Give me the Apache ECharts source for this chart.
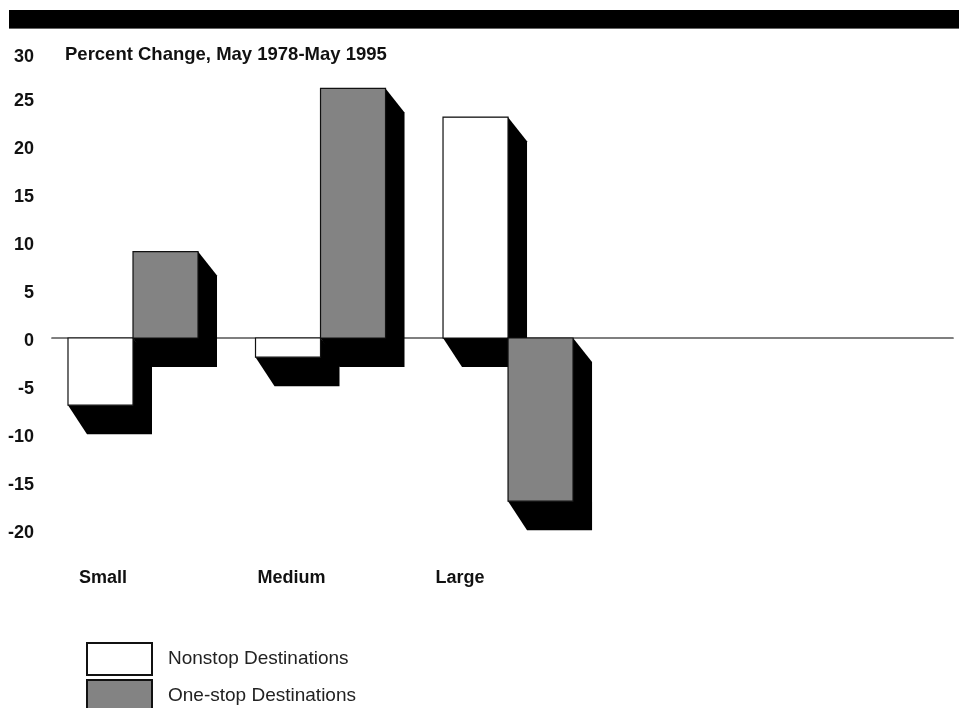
<!DOCTYPE html>
<html>
<head>
<meta charset="utf-8">
<script src="https://cdn.jsdelivr.net/npm/echarts@6/dist/echarts.min.js"></script>
<style>
html,body{margin:0;padding:0;background:#fff;}
#chart{width:959px;height:708px;}
</style>
</head>
<body>
<div id="chart"></div>
<script>
// ---- data ----
const categories = ['Small', 'Medium', 'Large'];
const nonstopValues = [-7, -2, 23];
const onestopValues = [9, 26, -17];
const seriesNames = ['Nonstop Destinations', 'One-stop Destinations'];
const yTicks = [-20, -15, -10, -5, 0, 5, 10, 15, 20, 25, 30];
const titleText = 'Percent Change, May 1978-May 1995';

// ---- style constants ----
const BAR_W = 0.3467;      // bar width in category units
const SH_DX = 19;          // shadow x offset (px)
const SH_DY = 29;          // shadow y offset, bottom (px)
const SH_DY_TOP = 24;      // shadow y offset, top (px)
const FONT = '"Liberation Sans", Arial, Helvetica, sans-serif';

function makeRender(side, fillColor) {
  return function (params, api) {
    const i = api.value(0);
    const v = api.value(1);
    const xl = side === 0 ? i - BAR_W : i;
    const xr = side === 0 ? i : i + BAR_W;
    const pA = api.coord([xl, 0]);
    const pB = api.coord([xr, v]);
    const x0 = pA[0], x1 = pB[0];
    const yz = pA[1], yv = pB[1];
    const top = Math.min(yz, yv), bot = Math.max(yz, yv);
    const pts = [
      [x0, top], [x1, top], [x1 + SH_DX, top + SH_DY_TOP],
      [x1 + SH_DX, bot + SH_DY], [x0 + SH_DX, bot + SH_DY], [x0, bot]
    ];
    return {
      type: 'group',
      children: [
        { type: 'polygon', z2: 0, shape: { points: pts },
          style: { fill: '#000', stroke: null } },
        { type: 'rect', z2: 10,
          shape: { x: x0, y: top, width: x1 - x0, height: bot - top },
          style: { fill: fillColor, stroke: '#111', lineWidth: 1.2 } }
      ]
    };
  };
}

const chart = echarts.init(document.getElementById('chart'), null, { renderer: 'canvas' });

const legendText = { fontFamily: FONT, fontSize: 19, color: '#222', padding: [5, 0, 0, 11] };

const option = {
  animation: false,
  backgroundColor: '#fff',
  textStyle: { fontFamily: FONT },
  title: {
    text: titleText,
    left: 65, top: 45, padding: 0,
    textStyle: { fontFamily: FONT, fontWeight: 'bold', fontSize: 18.5, color: '#111' }
  },
  graphic: [
    { type: 'rect', left: 9, top: 10, shape: { width: 950, height: 18 },
      style: { fill: '#000' } },
    { type: 'rect', left: 9, top: 28, shape: { width: 950, height: 1 },
      style: { fill: '#666' } }
  ],
  legend: [
    {
      orient: 'vertical', left: 86, top: 642, padding: 0,
      itemWidth: 65, itemHeight: 32, icon: 'rect',
      data: [seriesNames[0]], textStyle: legendText, selectedMode: false
    },
    {
      orient: 'vertical', left: 86, top: 679, padding: 0,
      itemWidth: 65, itemHeight: 32, icon: 'rect',
      data: [seriesNames[1]], textStyle: legendText, selectedMode: false
    }
  ],
  grid: { left: 52, right: 6, top: 50, bottom: 178, containLabel: false },
  xAxis: [
    {
      type: 'value', min: -0.432, max: 4.373,
      axisLine: { show: true, onZero: true, lineStyle: { color: '#555', width: 1.7 } },
      axisTick: { show: false }, axisLabel: { show: false }, splitLine: { show: false }
    },
    {
      type: 'value', min: -0.432, max: 4.373, position: 'bottom',
      axisLine: { show: false, onZero: false }, axisTick: { show: false }, splitLine: { show: false },
      axisLabel: {
        show: true, margin: 39,
        customValues: [0, 1, 2],
        formatter: function (v) { return '{c' + Math.round(v) + '|' + categories[Math.round(v)] + '}'; },
        rich: {
          c0: { fontFamily: FONT, fontWeight: 'bold', fontSize: 18, color: '#111', padding: [0, 60, 0, 0] },
          c1: { fontFamily: FONT, fontWeight: 'bold', fontSize: 18, color: '#111', padding: [0, 58, 0, 0] },
          c2: { fontFamily: FONT, fontWeight: 'bold', fontSize: 18, color: '#111', padding: [0, 96, 0, 0] }
        }
      }
    }
  ],
  yAxis: {
    type: 'value', min: yTicks[0], max: yTicks[yTicks.length - 1], interval: 5,
    axisLine: { show: false }, axisTick: { show: false }, splitLine: { show: false },
    axisLabel: {
      margin: 18,
      formatter: function (v) { return v === 30 ? '{t|' + v + '}' : '{n|' + v + '}'; },
      rich: {
        n: { fontFamily: FONT, fontWeight: 'bold', fontSize: 18, color: '#111', padding: [6, 0, 0, 0] },
        t: { fontFamily: FONT, fontWeight: 'bold', fontSize: 18, color: '#111', padding: [14, 0, 0, 0] }
      }
    }
  },
  series: [
    {
      name: seriesNames[0], type: 'custom', xAxisIndex: 0,
      itemStyle: { color: '#fff', borderColor: '#111', borderWidth: 1.2 },
      encode: { x: 0, y: 1 },
      data: nonstopValues.map((v, i) => [i, v]),
      renderItem: makeRender(0, '#fff')
    },
    {
      name: seriesNames[1], type: 'custom', xAxisIndex: 0,
      itemStyle: { color: '#838383', borderColor: '#111', borderWidth: 1.2 },
      encode: { x: 0, y: 1 },
      data: onestopValues.map((v, i) => [i, v]),
      renderItem: makeRender(1, '#838383')
    }
  ]
};
chart.setOption(option);
</script>
</body>
</html>
